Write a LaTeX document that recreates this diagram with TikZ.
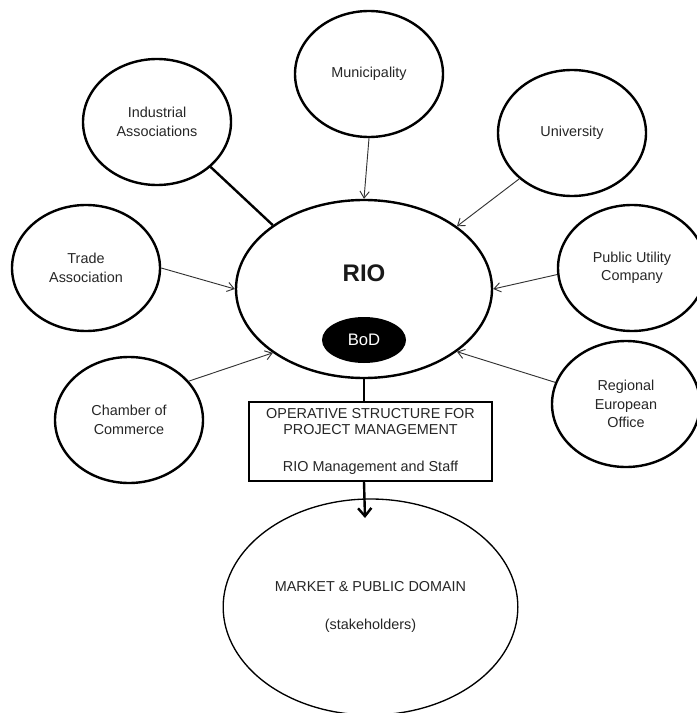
\documentclass[tikz,border=0pt]{standalone}
\usepackage{fontspec}
\setmainfont{Liberation Sans}
\usetikzlibrary{shapes.geometric,arrows.meta}
\begin{document}
\begin{tikzpicture}[x=0.75pt,y=-0.75pt,
  txt/.style={font=\fontsize{10.8}{13.9}\selectfont,text=black!85,align=center},
  sat/.style={ellipse,draw,line width=1.8pt,minimum width=111pt,minimum height=94.5pt,inner sep=0pt,txt},
  thin/.style={line width=0.7pt,draw=black!80,-{Straight Barb[length=5pt,width=7pt]}},
  thickline/.style={line width=1.8pt}
]
\useasboundingbox (0,0) rectangle (696,713);
% central
\node[ellipse,draw,line width=1.8pt,minimum width=192pt,minimum height=133.5pt,inner sep=0pt] (rio) at (364,289) {};
\node[font=\bfseries\fontsize{18}{20}\selectfont,text=black!90] (riotxt) at (364,273) {RIO};
\node[ellipse,fill=black,minimum width=63pt,minimum height=34.5pt,inner sep=0pt,text=white,font=\fontsize{12.5}{14}\selectfont] (bod) at (364,340) {BoD};
% satellites
\node[sat] (mun) at (369,74) {Municipality};
\node[sat] (ind) at (157,122) {Industrial\\Associations};
\node[sat] (uni) at (572,133) {University};
\node[sat] (trade) at (86,268) {Trade\\Association};
\node[sat] (pub) at (632,268) {Public Utility\\Company};
\node[sat] (cham) at (129,420) {Chamber of\\Commerce};
\node[sat] (reg) at (626,404) {Regional\\European\\Office};
% box
\node[draw,line width=1.1pt,minimum width=182.25pt,minimum height=59.25pt,inner sep=0pt,txt,font=\fontsize{10.8}{12}\selectfont] (box) at (370.5,441.5) {OPERATIVE STRUCTURE FOR\\PROJECT MANAGEMENT\\[16pt]RIO Management and Staff};
% market
\node[ellipse,draw,line width=1pt,minimum width=221pt,minimum height=162pt,inner sep=0pt,txt] (market) at (370.5,607) {MARKET \& PUBLIC DOMAIN\\[14pt](stakeholders)};
\coordinate (arrowend) at (365,518);
% connectors
\draw[thickline] (ind.-40.7) -- (rio.145.7);
\draw[thin] (mun.south) -- (rio.90);
\draw[thin] (uni.-139) -- (rio.34.8);
\draw[thin] (trade.east) -- (rio.180);
\draw[thin] (pub.185) -- (rio.0);
\draw[thin] (cham.33) -- (rio.-145);
\draw[thin] (reg.163.4) -- (rio.-34.8);
\draw[line width=1.6pt] (rio.south) -- (rio.south |- box.north);
\draw[line width=1.8pt,-{Straight Barb[length=6pt,width=10pt]}] (rio.south |- box.south) -- (arrowend);
\end{tikzpicture}
\end{document}
